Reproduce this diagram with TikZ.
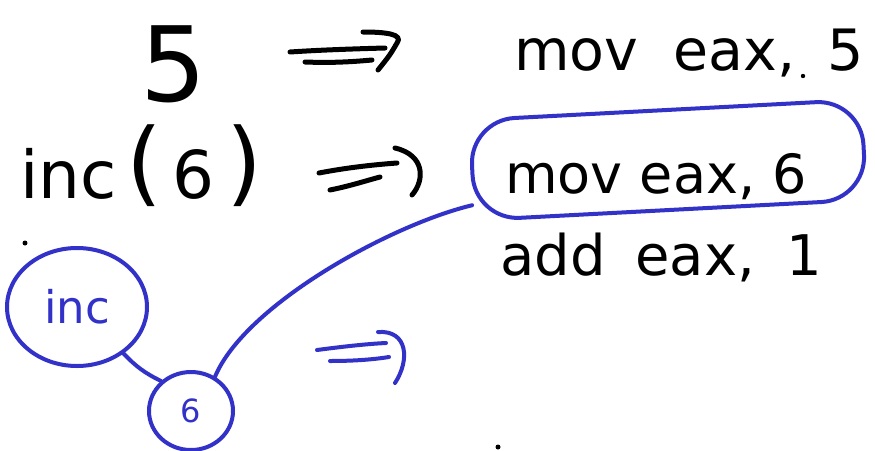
\documentclass[tikz,border=0pt]{standalone}
\usepackage{fontspec}
\setmainfont{DejaVu Sans}
\usetikzlibrary{shapes.geometric}
\definecolor{pen}{RGB}{50,50,200}

\newcommand{\fsz}[1]{\fontsize{#1}{#1}\selectfont}
\newcommand{\bigpar}[1]{{\fsz{92}\raisebox{4pt}{#1}}}

\begin{document}
\begin{tikzpicture}[x=1pt,y=-1pt,
  blk/.style={line width=5pt,line cap=round,line join=round},
  blu/.style={line width=4pt,line cap=round,line join=round,draw=pen},
  txt/.style={anchor=base west,inner sep=0pt,text=black},
  bubble/.style={ellipse,draw=pen,line width=4pt,inner sep=0pt,text=pen},
]
\useasboundingbox[fill=white] (0,0) rectangle (875,450);

% source expressions and generated code
\node[txt,font=\fsz{104}] (five) at (140,101) {5};
\node[txt,font=\fsz{57}] (movfive) at (514,70)
  {mov\hspace{17pt} eax,\hspace{14pt} 5};
\node[txt,font=\fsz{66}] (call) at (20,198)
  {inc\kern10pt\bigpar{(}\kern10pt6\kern12pt\bigpar{)}};
\node[txt,font=\fsz{54}] (movsix) at (505,193) {mov eax, 6};
\node[txt,font=\fsz{56}] (addone) at (500,275)
  {add\hspace{12pt} eax,\hspace{14pt} 1};

% stray pen dots
\fill (803,76) circle (2.2pt);
\fill (25,243) circle (2.5pt);
\fill (498,447) circle (2.5pt);

% "=>" marks
\draw[blk] (290,52) .. controls (320,50) and (350,49) .. (385,48);
\draw[blk] (305,62) .. controls (330,63) and (350,62) .. (372,60);
\draw[blk] (363,32) .. controls (385,32) and (404,34) .. (397,43)
           .. controls (390,55) .. (378,70);

\draw[blk] (319,173) .. controls (345,168) and (370,165) .. (397,163);
\draw[blk] (330,190) .. controls (350,186) and (365,181) .. (380,177);
\draw[blk] (395,148) .. controls (425,155) and (425,180) .. (412,195);

% highlighted instruction
\node[draw=pen,line width=4pt,rounded corners=45pt,minimum width=392pt,
      minimum height=100pt,rotate=3] (box) at (668,160) {};

% expression tree
\node[bubble,minimum width=140pt,minimum height=118pt,font=\fsz{45}]
  (inc) at (77,307) {inc};
\node[bubble,minimum width=84pt,minimum height=78pt,font=\fsz{32},
      text depth=-10pt] (six) at (191,411) {6};

\draw[blu] (inc.-45) to[bend right=10] (six.135);
\draw[blu] (six.55) .. controls (245,305) and (390,225) .. (box.190);

% blue "=>"
\draw[blu] (317,350) .. controls (340,347) and (365,344) .. (386,343);
\draw[blu] (330,361) .. controls (350,361) and (370,360) .. (389,357);
\draw[blu] (378,332) .. controls (408,330) and (410,360) .. (395,383);
\end{tikzpicture}
\end{document}
